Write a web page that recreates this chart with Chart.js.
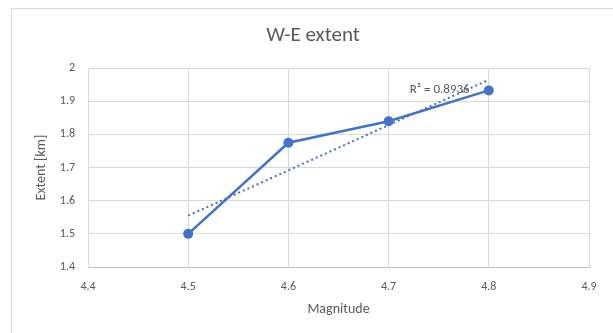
<!DOCTYPE html>
<html>
<head>
<meta charset="utf-8">
<script src="https://cdn.jsdelivr.net/npm/chart.js@4"></script>
<style>
  html, body { margin: 0; padding: 0; background: #fff; overflow: hidden; }
  .wrap { position: relative; width: 613px; height: 333px; }
  .frame {
    position: absolute; left: 11px; top: 8px; width: 640px; height: 360px;
    border: 1px solid #d9d9d9; pointer-events: none;
  }
  canvas { position: absolute; left: 0; top: 0; }
</style>
</head>
<body>
<div class="wrap">
  <div class="frame"></div>
  <canvas id="extentChart" width="613" height="333"></canvas>
</div>
<script>
const magnitudes = [4.5, 4.6, 4.7, 4.8];
const extents = [1.5, 1.775, 1.84, 1.933];
const trendX = [4.5, 4.8];
const trendY = [1.555, 1.965];
const rSquaredLabel = "R² = 0.8936";
const labelAt = { x: 4.751, y: 1.935 };

const textColor = "#595959";
const lineBlue = "#4472c4";
const fontFamily = "Calibri, Carlito, Lato, 'Open Sans', sans-serif";

const oneDecimal = (value) => String(Number(value.toFixed(1)));

const trendLabelPlugin = {
  id: "trendLabel",
  afterDatasetsDraw(chart) {
    const { ctx, scales } = chart;
    ctx.save();
    ctx.font = `13px ${fontFamily}`;
    ctx.fillStyle = textColor;
    ctx.textAlign = "center";
    ctx.textBaseline = "middle";
    ctx.fillText(rSquaredLabel, scales.x.getPixelForValue(labelAt.x), scales.y.getPixelForValue(labelAt.y));
    ctx.restore();
  },
};

new Chart(document.getElementById("extentChart"), {
  type: "scatter",
  data: {
    datasets: [
      {
        label: "Extent",
        data: magnitudes.map((m, i) => ({ x: m, y: extents[i] })),
        showLine: true,
        borderColor: lineBlue,
        backgroundColor: lineBlue,
        borderWidth: 2.5,
        pointRadius: 5,
        pointBorderWidth: 0,
        order: 1,
      },
      {
        label: "Linear trend",
        data: trendX.map((m, i) => ({ x: m, y: trendY[i] })),
        showLine: true,
        borderColor: lineBlue,
        borderWidth: 2,
        borderDash: [2, 3],
        pointRadius: 0,
        order: 2,
      },
    ],
  },
  options: {
    responsive: false,
    animation: false,
    layout: { padding: { left: 13, right: 0, top: 0, bottom: 0 } },
    plugins: {
      legend: { display: false },
      tooltip: { enabled: false },
      title: {
        display: true,
        text: "W-E extent",
        color: textColor,
        font: { family: fontFamily, size: 21, weight: "normal" },
        padding: { top: 23, bottom: 20 },
      },
    },
    scales: {
      x: {
        type: "linear",
        min: 4.4,
        max: 4.9,
        ticks: {
          stepSize: 0.1,
          color: textColor,
          font: { family: fontFamily, size: 12 },
          padding: 13,
          callback: (value) => oneDecimal(value),
        },
        grid: { color: "#d9d9d9", drawTicks: false },
        border: { color: "#bfbfbf" },
        title: {
          display: true,
          text: "Magnitude",
          color: textColor,
          font: { family: fontFamily, size: 14 },
          padding: { top: 0, bottom: 15 },
        },
        afterFit(scale) { scale.height = 66; },
      },
      y: {
        min: 1.4,
        max: 2,
        ticks: {
          stepSize: 0.1,
          color: textColor,
          font: { family: fontFamily, size: 12 },
          padding: 13,
          callback: (value) => oneDecimal(value),
        },
        grid: { color: "#d9d9d9", drawTicks: false },
        border: { color: "#d9d9d9" },
        title: {
          display: true,
          text: "Extent [km]",
          color: textColor,
          font: { family: fontFamily, size: 14 },
          padding: { top: 20, bottom: 0 },
        },
        afterFit(scale) { scale.width = 75; },
      },
      yRight: {
        position: "right",
        min: 1.4,
        max: 2,
        ticks: { display: false },
        grid: { display: false, drawTicks: false },
        border: { display: false },
        afterFit(scale) { scale.width = 24; },
      },
    },
  },
  plugins: [trendLabelPlugin],
});
</script>
</body>
</html>
